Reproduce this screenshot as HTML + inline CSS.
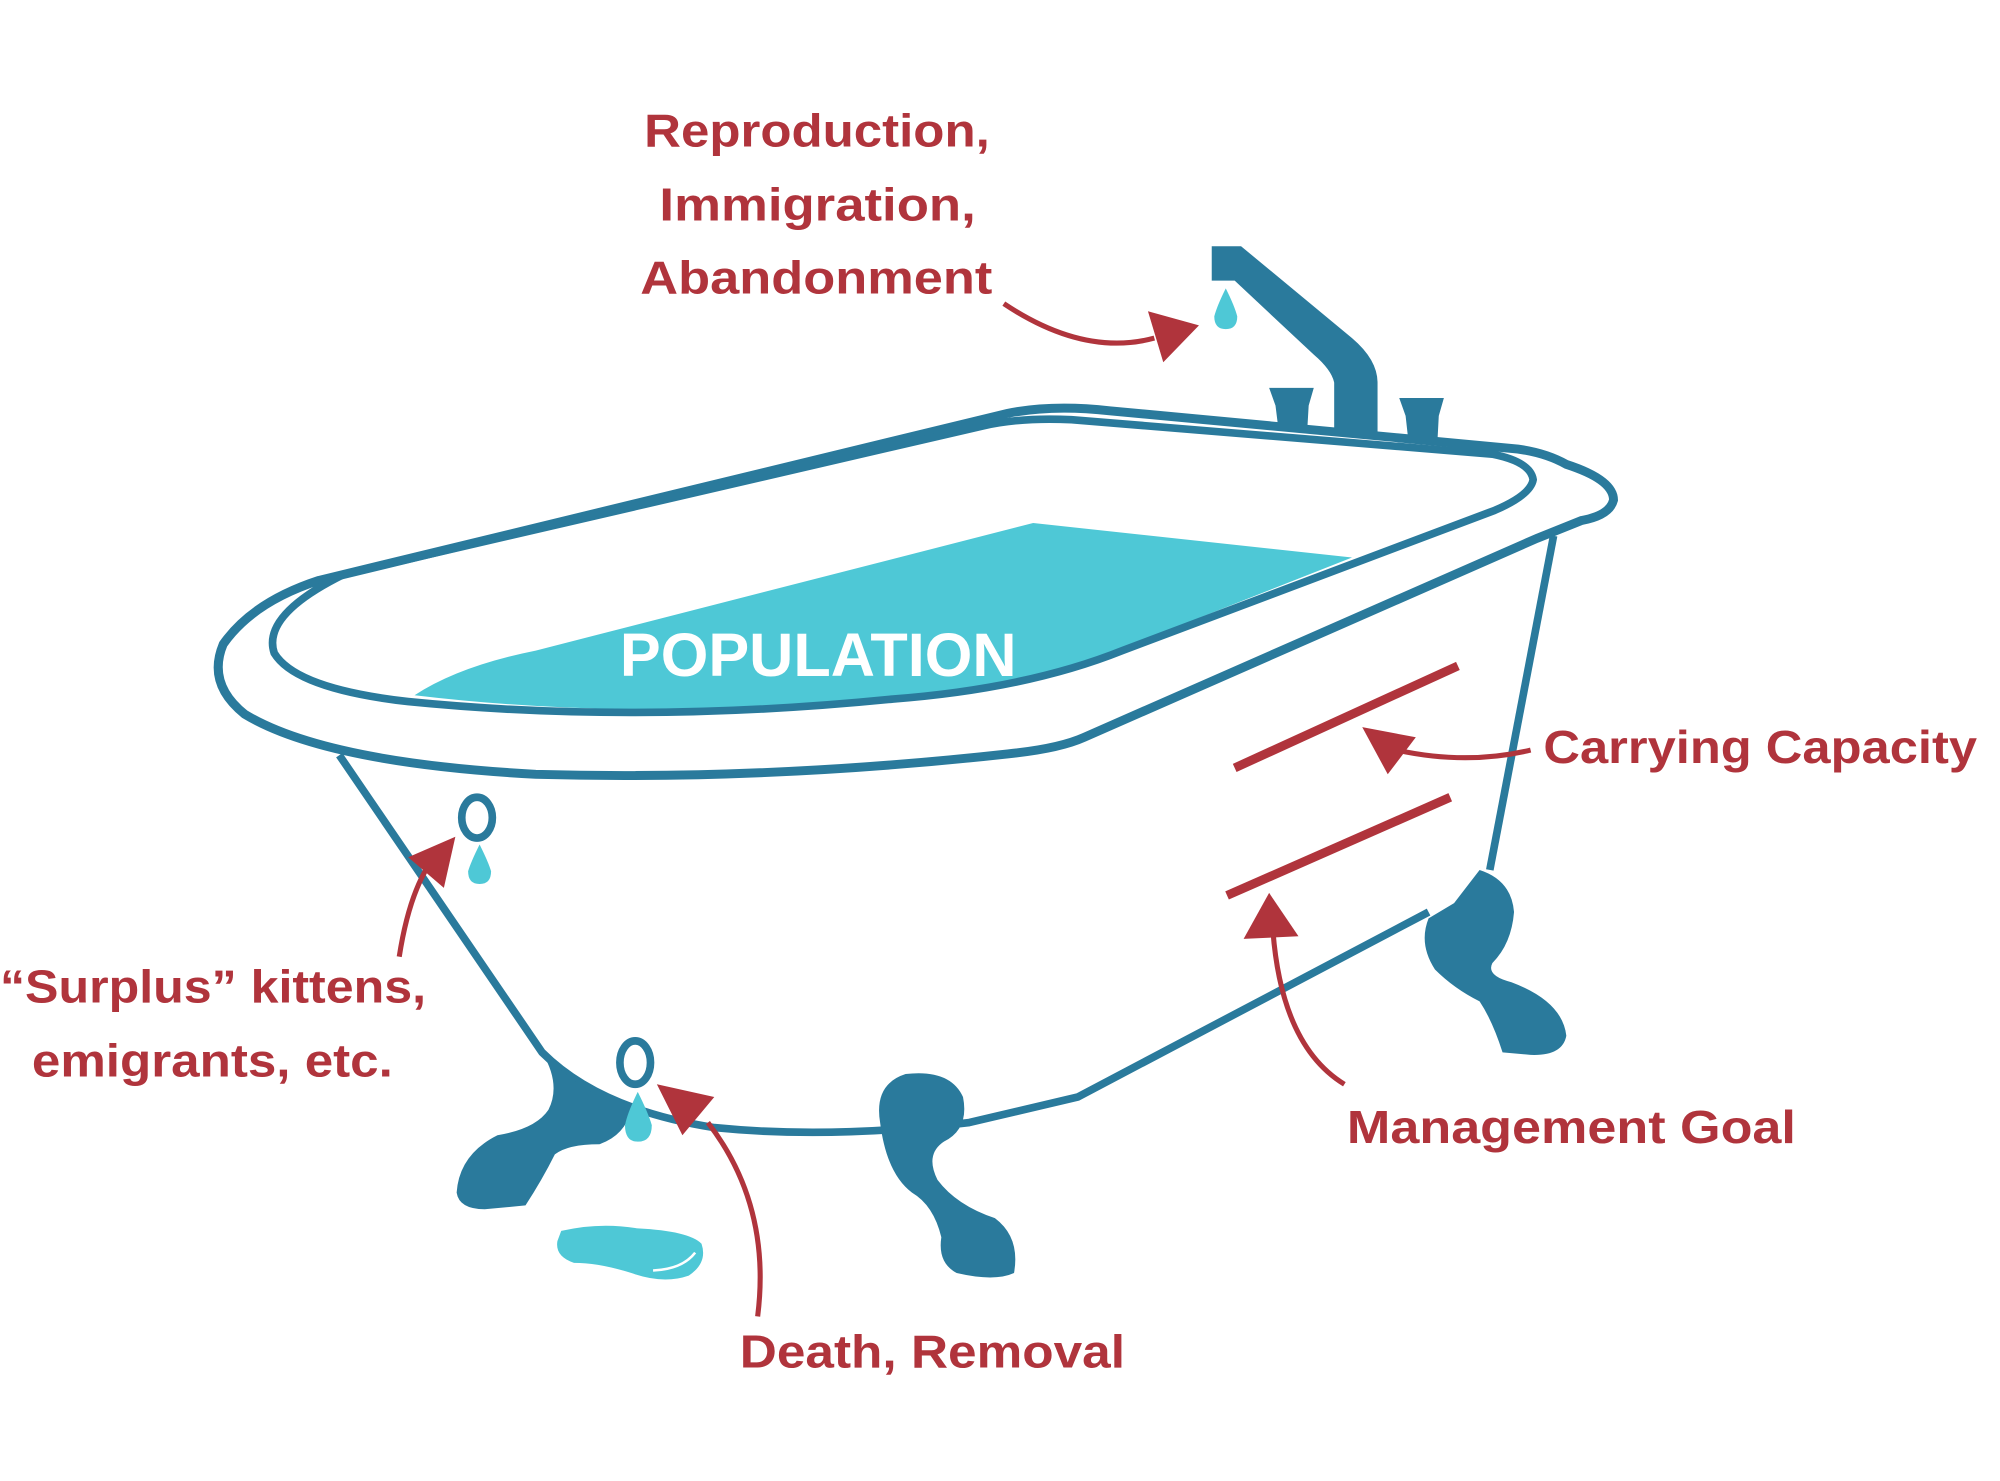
<!DOCTYPE html>
<html><head><meta charset="utf-8"><style>
html,body{margin:0;padding:0;background:#fff;}
svg{display:block;}
text{font-family:"Liberation Sans",sans-serif;font-weight:bold;}
</style></head><body>
<svg width="2000" height="1481" viewBox="0 0 1568 1161" xmlns="http://www.w3.org/2000/svg">
<!-- water -->
<path d="M325,545 Q360,522 420,510 L810,410 L1060,437 L870,512 Q800,540 700,548 Q500,566 325,545 Z" fill="#4ec8d6"/>
<!-- outer rim -->
<path d="M250,455 L790,324 Q825,317 870,322 L1190,352 Q1212,355 1228,364 Q1265,376 1265,392 Q1262,404 1240,408 L1205,422 L850,578 Q830,587 790,591 Q600,612 420,607 Q255,598 192,560 Q162,536 175,505 Q198,472 250,455 Z" fill="none" stroke="#2a7a9c" stroke-width="7"/>
<!-- inner rim -->
<path d="M270,450 L770,334 Q800,327 840,329 L1170,356 Q1200,362 1202,376 Q1200,388 1172,400 L880,510 Q805,540 700,548 Q500,568 320,550 Q232,540 215,512 Q205,482 270,450 Z" fill="none" stroke="#2a7a9c" stroke-width="6"/>
<!-- body -->
<path d="M266,592 L425,825 Q470,870 560,884 Q650,893 760,880 L845,860 L1120,715" fill="none" stroke="#2a7a9c" stroke-width="6"/>
<path d="M1218,420 L1168,682" fill="none" stroke="#2a7a9c" stroke-width="6"/>
<!-- feet -->
<path d="M425,825 Q440,850 430,870 Q420,885 390,890 Q360,905 358,935 Q360,948 380,948 L412,945 Q425,925 435,905 Q445,897 470,897 Q490,890 495,870 Q460,860 425,825 Z" fill="#2a7a9c"/>
<path d="M690,880 Q685,850 710,842 Q745,838 755,860 Q760,885 740,895 Q725,905 735,925 Q750,945 780,955 Q800,970 795,998 Q780,1005 750,998 Q735,990 738,970 Q732,945 715,935 Q695,920 690,880 Z" fill="#2a7a9c"/>
<path d="M1160,682 Q1185,690 1187,715 Q1185,740 1170,755 Q1165,765 1185,770 Q1225,785 1228,812 Q1225,828 1200,827 L1178,825 Q1170,800 1160,785 Q1140,775 1125,760 Q1112,740 1120,720 L1140,708 Z" fill="#2a7a9c"/>
<!-- faucet -->
<path d="M950,193 L973,193 L1060,265 Q1080,282 1080,300 L1080,342 L1046,340 L1046,300 Q1044,290 1030,278 L968,220 L950,220 Z" fill="#2a7a9c"/>
<path d="M995,304 L1030,304 L1026,318 L1025,335 L1002,334 L1000,318 Z" fill="#2a7a9c"/>
<path d="M1097,312 L1132,312 L1128,326 L1127,345 L1104,344 L1102,326 Z" fill="#2a7a9c"/>
<path d="M961,226 Q954,240 952,248 Q952,258 961,258 Q970,258 970,248 Q968,240 961,226 Z" fill="#4ec8d6"/>
<!-- drains -->
<ellipse cx="374" cy="641" rx="12" ry="16" fill="none" stroke="#2a7a9c" stroke-width="6"/>
<path d="M376,662 Q369,676 367,683 Q367,693 376,693 Q385,693 385,683 Q383,676 376,662 Z" fill="#4ec8d6"/>
<ellipse cx="498" cy="833" rx="12" ry="17" fill="none" stroke="#2a7a9c" stroke-width="6"/>
<path d="M500,856 Q492,872 490,882 Q490,895 500,895 Q511,895 511,882 Q508,872 500,856 Z" fill="#4ec8d6"/>
<!-- puddle -->
<path d="M440,965 Q470,958 500,963 Q540,965 550,975 Q555,990 540,1000 Q520,1007 495,998 Q470,990 450,990 Q435,985 437,973 Z" fill="#4ec8d6"/>
<path d="M512,996 Q535,995 545,982" fill="none" stroke="#fff" stroke-width="2"/>
<!-- red capacity lines -->
<line x1="968" y1="602" x2="1143" y2="522" stroke="#b0343c" stroke-width="7"/>
<line x1="962" y1="702" x2="1137" y2="625" stroke="#b0343c" stroke-width="7"/>
<!-- arrows -->
<g fill="none" stroke="#b0343c" stroke-width="4">
<path d="M787,238 Q850,280 905,265"/>
<path d="M1200,588 Q1150,600 1095,588"/>
<path d="M1054,850 Q1005,820 998,730"/>
<path d="M594,1032 Q605,945 555,880"/>
<path d="M313,750 Q320,705 335,680"/>
</g>
<g fill="#b0343c">
<polygon points="940,255 900,244 912,284"/>
<polygon points="1068,570 1088,607 1110,578"/>
<polygon points="995,700 975,736 1018,734"/>
<polygon points="515,850 535,890 560,860"/>
<polygon points="357,656 320,672 348,696"/>
</g>
<!-- text -->
<g fill="#b0343c" font-size="36" lengthAdjust="spacingAndGlyphs">
<text x="505" y="115" textLength="271" lengthAdjust="spacingAndGlyphs">Reproduction,</text>
<text x="517" y="173" textLength="248" lengthAdjust="spacingAndGlyphs">Immigration,</text>
<text x="502" y="230" textLength="276" lengthAdjust="spacingAndGlyphs">Abandonment</text>
<text x="1210" y="598" textLength="340" lengthAdjust="spacingAndGlyphs">Carrying Capacity</text>
<text x="1056" y="896" textLength="352" lengthAdjust="spacingAndGlyphs">Management Goal</text>
<text x="580" y="1072" textLength="302" lengthAdjust="spacingAndGlyphs">Death, Removal</text>
<text x="0" y="786" textLength="334" lengthAdjust="spacingAndGlyphs">“Surplus” kittens,</text>
<text x="25" y="844" textLength="283" lengthAdjust="spacingAndGlyphs">emigrants, etc.</text>
</g>
<text x="486" y="530" textLength="311" lengthAdjust="spacingAndGlyphs" fill="#fff" font-size="48">POPULATION</text>
</svg>
</body></html>
